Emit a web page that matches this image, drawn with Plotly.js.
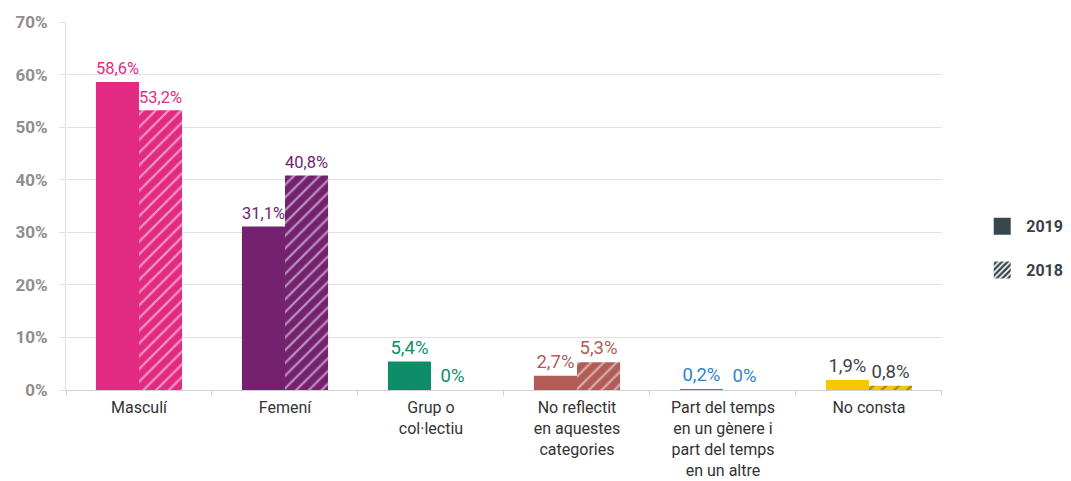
<!DOCTYPE html>
<html>
<head>
<meta charset="utf-8">
<script src="https://cdn.plot.ly/plotly-3.0.1.min.js"></script>
<style>body{margin:0;background:#fff;} #chart{width:1071px;height:481px;}</style>
</head>
<body>
<div id="chart"></div>
<script>
const categories = ["Masculí", "Femení", "Grup o<br>col·lectiu", "No reflectit<br>en aquestes<br>categories", "Part del temps<br>en un gènere i<br>part del temps<br>en un altre", "No consta"];
const values2019 = [58.6, 31.1, 5.4, 2.7, 0.2, 1.9];
const values2018 = [53.2, 40.8, 0, 5.3, 0, 0.8];
const barColors = ["#e32a82", "#74226f", "#0d8e68", "#b15c57", "#2f82cc", "#f2c800"];
const labelColors = ["#e32a82", "#74226f", "#0d8e68", "#b15c57", "#2f82cc", "#3b424a"];
const yTicks = [0, 10, 20, 30, 40, 50, 60, 70];

function fmt(v){ return v === 0 ? "0%" : v.toFixed(1).replace(".", ",") + "%"; }

const font = "Roboto, 'Noto Sans', sans-serif";

const t2019 = {
  type: "bar", x: categories, y: values2019, name: "2019", showlegend: false,
  marker: {color: barColors},
  text: values2019.map(fmt), textposition: "outside", cliponaxis: false,
  textfont: {color: labelColors, size: 18.5, family: font},
  hoverinfo: "skip"
};
const t2018 = {
  type: "bar", x: categories, y: values2018, name: "2018", showlegend: false,
  marker: {color: barColors, pattern: {shape: "/", fillmode: "overlay", fgcolor: "#ffffff", fgopacity: 0.5, size: 9, solidity: 0.25}},
  text: values2018.map(fmt), textposition: "outside", cliponaxis: false,
  textfont: {color: labelColors, size: 18.5, family: font},
  hoverinfo: "skip"
};
const leg2019 = {type: "bar", x: [0], y: [0], name: "2019", xaxis: "x2", yaxis: "y2", legendgroup: "a",
  marker: {color: "#37474f"}, hoverinfo: "skip"};
const leg2018 = {type: "bar", x: [0], y: [0], name: "2018", xaxis: "x2", yaxis: "y2", legendgroup: "b",
  marker: {color: "#37474f", pattern: {shape: "/", fillmode: "overlay", fgcolor: "#ffffff", fgopacity: 1, size: 5, solidity: 0.4}}, hoverinfo: "skip"};

const layout = {
  width: 1071, height: 481,
  margin: {l: 66, r: 20, t: 22, b: 91},
  paper_bgcolor: "#ffffff", plot_bgcolor: "#ffffff",
  barmode: "group", bargap: 0.41, bargroupgap: 0,
  font: {family: font, color: "#333"},
  xaxis: {
    domain: [0, 0.8893],
    showline: true, linecolor: "#cfd3d3", linewidth: 1,
    ticks: "outside", tickson: "boundaries", ticklen: 5, tickcolor: "#cfd3d3",
    ticklabelstandoff: 3,
    tickfont: {size: 16, color: "#333", family: font},
    fixedrange: true
  },
  yaxis: {
    range: [0, 70], tickvals: yTicks, ticktext: yTicks.map(v => v + "%"),
    showgrid: true, gridcolor: "#dfe2e2", gridwidth: 1,
    zeroline: false, showline: true, linecolor: "#dfe2e2",
    ticks: "outside", ticklen: 6, tickcolor: "#dfe2e2",
    ticklabelstandoff: 8,
    tickfont: {size: 17, color: "#8e8e8e", family: font, weight: "bold"},
    fixedrange: true
  },
  xaxis2: {visible: false, domain: [0, 0.001], range: [5, 6]},
  yaxis2: {visible: false, anchor: "x2", range: [1, 2]},
  showlegend: true,
  legend: {
    x: 0.918, xanchor: "left", y: 0.385, yanchor: "middle",
    traceorder: "grouped", tracegroupgap: 20,
    font: {size: 16, color: "#37424c", family: font, weight: "bold"},
    bgcolor: "rgba(0,0,0,0)"
  }
};

Plotly.newPlot("chart", [t2019, t2018, leg2019, leg2018], layout, {displayModeBar: false, staticPlot: true}).then(function(){
  document.querySelectorAll('#chart .legendpoints path').forEach(function(p){
    p.setAttribute('d', 'M8.5,8.5H-8.5V-8.5H8.5Z');
  });
  document.querySelectorAll('#chart .legendtext').forEach(function(t){
    t.setAttribute('x', '44');
  });
  const lg = document.querySelector('#chart g.legend');
  if (lg) {
    const tr = lg.getAttribute('transform') || '';
    const m = tr.match(/translate\(\s*([-\d.]+)[ ,]+([-\d.]+)\s*\)/);
    if (m) lg.setAttribute('transform', 'translate(' + (parseFloat(m[1]) + 12) + ',' + m[2] + ')');
  }
});
</script>
</body>
</html>
